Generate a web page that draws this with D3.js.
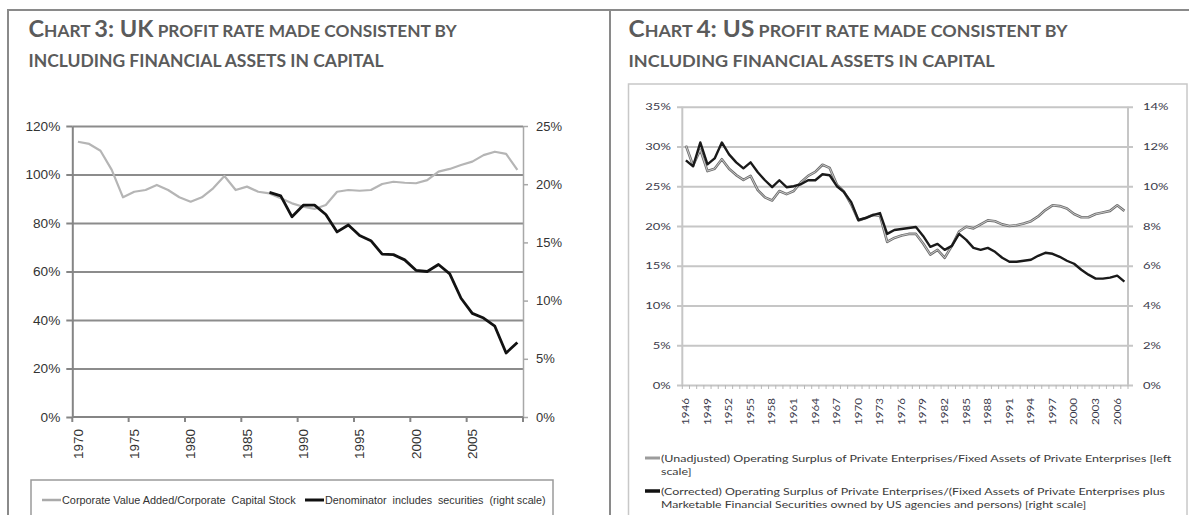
<!DOCTYPE html>
<html><head><meta charset="utf-8">
<script src="https://cdn.jsdelivr.net/npm/d3@7"></script>
<style>body{margin:0;background:#fff;overflow:hidden} svg{display:block}</style>
</head><body>
<svg id="c" width="1189" height="515"></svg>
<script>
// ---------- DATA ----------
const ukYears = [1970,1971,1972,1973,1974,1975,1976,1977,1978,1979,1980,1981,1982,1983,1984,1985,1986,1987,1988,1989,
                 1990,1991,1992,1993,1994,1995,1996,1997,1998,1999,2000,2001,2002,2003,2004,2005,2006,2007,2008,2009];
const ukValueAdded = [113.5,112.6,109.8,101.9,90.6,92.9,93.6,95.7,93.6,90.6,88.8,90.6,94.3,99.4,93.6,95.0,92.9,92.2,90.2,88.1,
                      86.7,85.8,87.4,92.9,93.6,93.3,93.6,96.1,97.0,96.6,96.4,97.7,101.2,102.3,103.9,105.3,108.0,109.4,108.5,101.9];
const ukWithSecurities = [null,null,null,null,null,null,null,null,null,null,null,null,null,null,null,null,null,19.3,19.0,17.2,
                          18.2,18.2,17.4,15.9,16.5,15.6,15.15,14.0,13.95,13.5,12.6,12.5,13.1,12.3,10.2,8.9,8.5,7.8,5.5,6.4];
const ukLeftTicks = [0,20,40,60,80,100,120];
const ukRightTicks = [0,5,10,15,20,25];
const ukLabelYears = [1970,1975,1980,1985,1990,1995,2000,2005];

const usYears = [1946,1947,1948,1949,1950,1951,1952,1953,1954,1955,1956,1957,1958,1959,1960,1961,1962,1963,1964,1965,
                 1966,1967,1968,1969,1970,1971,1972,1973,1974,1975,1976,1977,1978,1979,1980,1981,1982,1983,1984,1985,
                 1986,1987,1988,1989,1990,1991,1992,1993,1994,1995,1996,1997,1998,1999,2000,2001,2002,2003,2004,2005,2006,2007];
const usUnadjusted = [30.1,27.6,29.6,26.9,27.2,28.4,27.2,26.4,25.8,26.3,24.5,23.6,23.2,24.4,24.0,24.4,25.5,26.3,26.8,27.7,
                      27.3,25.2,24.3,22.7,20.7,21.0,21.4,21.3,18.0,18.5,18.8,19.0,19.0,17.8,16.4,17.0,16.0,17.5,19.3,19.9,
                      19.7,20.2,20.7,20.6,20.2,20.0,20.1,20.3,20.6,21.2,22.0,22.6,22.5,22.2,21.5,21.1,21.1,21.5,21.7,21.9,22.6,21.9];
const usCorrected = [11.3,11.0,12.2,11.1,11.4,12.2,11.6,11.2,10.9,11.2,10.7,10.3,9.95,10.3,9.95,10.0,10.1,10.3,10.3,10.6,
                     10.55,10.0,9.7,9.2,8.3,8.4,8.55,8.65,7.6,7.8,7.85,7.9,7.95,7.5,6.95,7.1,6.8,7.0,7.6,7.3,
                     6.9,6.8,6.9,6.7,6.4,6.2,6.2,6.25,6.3,6.5,6.65,6.6,6.45,6.25,6.1,5.8,5.55,5.35,5.35,5.4,5.5,5.2];
const usLeftTicks = [0,5,10,15,20,25,30,35];
const usRightTicks = [0,2,4,6,8,10,12,14];
const usLabelYears = [1946,1949,1952,1955,1958,1961,1964,1967,1970,1973,1976,1979,1982,1985,1988,1991,1994,1997,2000,2003,2006];

// ---------- HELPERS ----------
const svg = d3.select('#c');
function fit(sel, x, y, w) {
  const len = sel.node().getComputedTextLength();
  sel.attr('transform', `translate(${x},${y}) scale(${w/len},1)`);
  return w/len;
}
function stretch(sel, k) {
  sel.each(function(){ const len = this.getComputedTextLength(); d3.select(this).attr('textLength', len*k).attr('lengthAdjust','spacingAndGlyphs'); });
}
const ctr = (x, d) => x(d) + x.bandwidth()/2;

// ---------- FRAME ----------
svg.append('line').attr('x1',7).attr('x2',1189).attr('y1',10).attr('y2',10).attr('stroke','#8a8a8a').attr('stroke-width',2);
svg.append('line').attr('x1',8).attr('x2',8).attr('y1',9).attr('y2',515).attr('stroke','#8a8a8a').attr('stroke-width',2);
svg.append('line').attr('x1',610).attr('x2',610).attr('y1',9).attr('y2',515).attr('stroke','#8a8a8a').attr('stroke-width',2);

// ---------- TITLES ----------
function title(x0, parts1, line2, w1, w2) {
  const t1 = svg.append('text').attr('font-family','Lato, "Open Sans", sans-serif').attr('font-weight','bold').attr('fill','#5b5b5b');
  parts1.forEach(p => t1.append('tspan').attr('font-size', p[1]).text(p[0]));
  fit(t1, x0, 36.7, w1);
  const t2 = svg.append('text').attr('font-family','Lato, "Open Sans", sans-serif').attr('font-weight','bold').attr('fill','#5b5b5b')
    .attr('font-size',16.5).text(line2);
  fit(t2, x0, 66.5, w2);
}
title(28.5, [['C',22.5],['HART ',16.5],['3: UK',22.5],[' PROFIT RATE MADE CONSISTENT BY',16.5]],
      'INCLUDING FINANCIAL ASSETS IN CAPITAL', 428.5, 355);
title(628.5, [['C',22.5],['HART ',16.5],['4: US',22.5],[' PROFIT RATE MADE CONSISTENT BY',16.5]],
      'INCLUDING FINANCIAL ASSETS IN CAPITAL', 439.5, 366.5);

// ---------- UK CHART ----------
const ukX = d3.scaleBand().domain(ukYears).range([72.3, 523]);
const ukYL = d3.scaleLinear().domain([0,120]).range([417,126]);
const ukYR = d3.scaleLinear().domain([0,25]).range([417,126]);
const uk = svg.append('g');

// gridlines
uk.append('g').attr('transform','translate(72.3,0)')
  .call(d3.axisLeft(ukYL).tickValues(ukLeftTicks.filter(d=>d>0)).tickSize(-(523-72.3)).tickFormat(''))
  .call(s=>{ s.select('.domain').remove(); s.selectAll('line').attr('stroke','#8c8c8c').attr('stroke-width',2); });

// right axis
const ukR = uk.append('g').attr('transform','translate(523,0)')
  .call(d3.axisRight(ukYR).tickValues(ukRightTicks).tickSize(5).tickPadding(8).tickSizeOuter(0).tickFormat(d=>d+'%'));
ukR.select('.domain').attr('stroke','#a8a8a8').attr('stroke-width',1.5);
ukR.selectAll('line').attr('stroke','#a8a8a8').attr('stroke-width',1.5);
ukR.selectAll('text').attr('font-family','"Liberation Sans", Arial, sans-serif').attr('font-size',13).attr('fill','#333');

// left axis
const ukL = uk.append('g').attr('transform','translate(72.3,0)')
  .call(d3.axisLeft(ukYL).tickValues(ukLeftTicks).tickSize(6).tickPadding(6).tickSizeOuter(0).tickFormat(d=>d+'%'));
ukL.select('.domain').attr('stroke','#858585').attr('stroke-width',2);
ukL.selectAll('line').attr('stroke','#858585').attr('stroke-width',2);
ukL.selectAll('text').attr('font-family','"Liberation Sans", Arial, sans-serif').attr('font-size',13).attr('fill','#333');
stretch(ukL.selectAll('text'), 1.05);

// x axis
uk.append('line').attr('x1',72.3).attr('x2',523).attr('y1',417).attr('y2',417).attr('stroke','#858585').attr('stroke-width',2);
uk.append('g').selectAll('line').data(ukLabelYears).join('line')
  .attr('x1',d=>ukX(d)).attr('x2',d=>ukX(d)).attr('y1',417).attr('y2',422).attr('stroke','#858585').attr('stroke-width',2);
uk.append('line').attr('x1',ukX.range()[1]).attr('x2',ukX.range()[1]).attr('y1',417).attr('y2',422).attr('stroke','#858585').attr('stroke-width',2);
const ukXL = uk.append('g').attr('transform','translate(0,417)')
  .call(d3.axisBottom(ukX).tickValues(ukLabelYears).tickSize(0));
ukXL.select('.domain').remove();
ukXL.selectAll('text').attr('transform','rotate(-90)').attr('text-anchor','end').attr('x',-12).attr('y',0).attr('dy','0.35em')
  .attr('font-family','"Liberation Sans", Arial, sans-serif').attr('font-size',13.5).attr('fill','#333');

// lines
const ukGrayLine = d3.line().x((d,i)=>ctr(ukX,ukYears[i])).y(d=>ukYL(d));
uk.append('path').attr('d', ukGrayLine(ukValueAdded)).attr('fill','none').attr('stroke','#b5b5b5').attr('stroke-width',2.2).attr('stroke-linejoin','round');
const ukBlackLine = d3.line().defined(d=>d!=null).x((d,i)=>ctr(ukX,ukYears[i])).y(d=>ukYR(d));
uk.append('path').attr('d', ukBlackLine(ukWithSecurities)).attr('fill','none').attr('stroke','#121212').attr('stroke-width',2.8).attr('stroke-linejoin','round');

// legend
uk.append('rect').attr('x',31).attr('y',480).attr('width',522).attr('height',60).attr('fill','none').attr('stroke','#9a9a9a').attr('stroke-width',1.5);
uk.append('line').attr('x1',42).attr('x2',61).attr('y1',500).attr('y2',500).attr('stroke','#aaa').attr('stroke-width',2.5);
uk.append('line').attr('x1',305).attr('x2',324).attr('y1',500).attr('y2',500).attr('stroke','#111').attr('stroke-width',3);
const ul1 = uk.append('text').attr('font-family','"Liberation Sans", Arial, sans-serif').attr('font-size',10).attr('fill','#333').attr('dy','0.35em')
  .text('Corporate Value Added/Corporate  Capital Stock').attr('xml:space','preserve');
fit(ul1, 62, 500, 234);
const ul2 = uk.append('text').attr('font-family','"Liberation Sans", Arial, sans-serif').attr('font-size',10).attr('fill','#333').attr('dy','0.35em')
  .text('Denominator  includes  securities  (right scale)').attr('xml:space','preserve');
fit(ul2, 325, 500, 221);

// ---------- US CHART ----------
const us = svg.append('g');
us.append('rect').attr('x',628.5).attr('y',84).attr('width',558.5).attr('height',500).attr('fill','none').attr('stroke','#c8c8c8').attr('stroke-width',1.5);

const usX = d3.scaleBand().domain(usYears).range([682.3, 1128]);
const usYL = d3.scaleLinear().domain([0,35]).range([385,106.7]);
const usYR = d3.scaleLinear().domain([0,14]).range([385,106.7]);

// gridlines (extend slightly past both axes)
us.append('g').attr('transform','translate(677,0)')
  .call(d3.axisLeft(usYL).tickValues(usLeftTicks).tickSize(-(1133-677)).tickFormat(''))
  .call(s=>{ s.select('.domain').remove(); s.selectAll('line').attr('stroke','#c6c6c6').attr('stroke-width',2); });
// axis lines
us.append('line').attr('x1',682.3).attr('x2',682.3).attr('y1',106.7).attr('y2',385).attr('stroke','#c6c6c6').attr('stroke-width',2);
us.append('line').attr('x1',1128).attr('x2',1128).attr('y1',106.7).attr('y2',385).attr('stroke','#c6c6c6').attr('stroke-width',2);
// category tick marks
us.append('g').selectAll('line').data(usYears).join('line')
  .attr('x1',d=>usX(d)).attr('x2',d=>usX(d)).attr('y1',385).attr('y2',389).attr('stroke','#b8b8b8').attr('stroke-width',1);
us.append('line').attr('x1',usX.range()[1]).attr('x2',usX.range()[1]).attr('y1',385).attr('y2',389).attr('stroke','#b8b8b8').attr('stroke-width',1);

const usFont = 'Lato, "Open Sans", sans-serif';
const usL = us.append('g').attr('transform','translate(682.3,0)')
  .call(d3.axisLeft(usYL).tickValues(usLeftTicks).tickSize(0).tickPadding(11.5).tickFormat(d=>d+'%'));
usL.select('.domain').remove();
usL.selectAll('text').attr('font-family',usFont).attr('font-size',10).attr('fill','#3a3a4a');
stretch(usL.selectAll('text'), 1.3);
const usR = us.append('g').attr('transform','translate(1128,0)')
  .call(d3.axisRight(usYR).tickValues(usRightTicks).tickSize(0).tickPadding(15).tickFormat(d=>d+'%'));
usR.select('.domain').remove();
usR.selectAll('text').attr('font-family',usFont).attr('font-size',10).attr('fill','#3a3a4a');
stretch(usR.selectAll('text'), 1.3);

const usXL = us.append('g').attr('transform','translate(0,385)')
  .call(d3.axisBottom(usX).tickValues(usLabelYears).tickSize(0));
usXL.select('.domain').remove();
usXL.selectAll('text').attr('transform','rotate(-90)').attr('text-anchor','end').attr('x',-13).attr('y',0).attr('dy','0.35em')
  .attr('font-family',usFont).attr('font-size',9.5).attr('fill','#3a3a4a');
stretch(usXL.selectAll('text'), 1.22);

// lines
const usUnLine = d3.line().x((d,i)=>ctr(usX,usYears[i])).y(d=>usYL(d));
us.append('path').attr('d', usUnLine(usUnadjusted)).attr('fill','none').attr('stroke','#6e6e6e').attr('stroke-width',2.6).attr('stroke-linejoin','round');
us.append('path').attr('d', usUnLine(usUnadjusted)).attr('fill','none').attr('stroke','#d4d4d4').attr('stroke-width',0.9).attr('stroke-linejoin','round');
const usCoLine = d3.line().x((d,i)=>ctr(usX,usYears[i])).y(d=>usYR(d));
us.append('path').attr('d', usCoLine(usCorrected)).attr('fill','none').attr('stroke','#1a1a1a').attr('stroke-width',2.4).attr('stroke-linejoin','round');

// legend
us.append('line').attr('x1',645).attr('x2',660).attr('y1',458).attr('y2',458).attr('stroke','#9c9c9c').attr('stroke-width',3);
us.append('line').attr('x1',645).attr('x2',660).attr('y1',491).attr('y2',491).attr('stroke','#111').attr('stroke-width',3.5);
function usLeg(txt, y, w, k) {
  const t = us.append('text').attr('font-family',usFont).attr('font-size',10).attr('fill','#3a3a3a').attr('dy','0.35em').text(txt);
  if (w) return fit(t, 661, y, w);
  t.attr('transform', `translate(661,${y}) scale(${k},1)`); return k;
}
const k1 = usLeg('(Unadjusted) Operating Surplus of Private Enterprises/Fixed Assets  of Private Enterprises [left', 458, 511);
usLeg('scale]', 471, null, k1);
usLeg('(Corrected) Operating Surplus of Private Enterprises/(Fixed Assets of Private Enterprises plus', 491, 505);
usLeg('Marketable Financial Securities owned by US agencies and persons) [right scale]', 504, 426);
</script>
</body></html>
